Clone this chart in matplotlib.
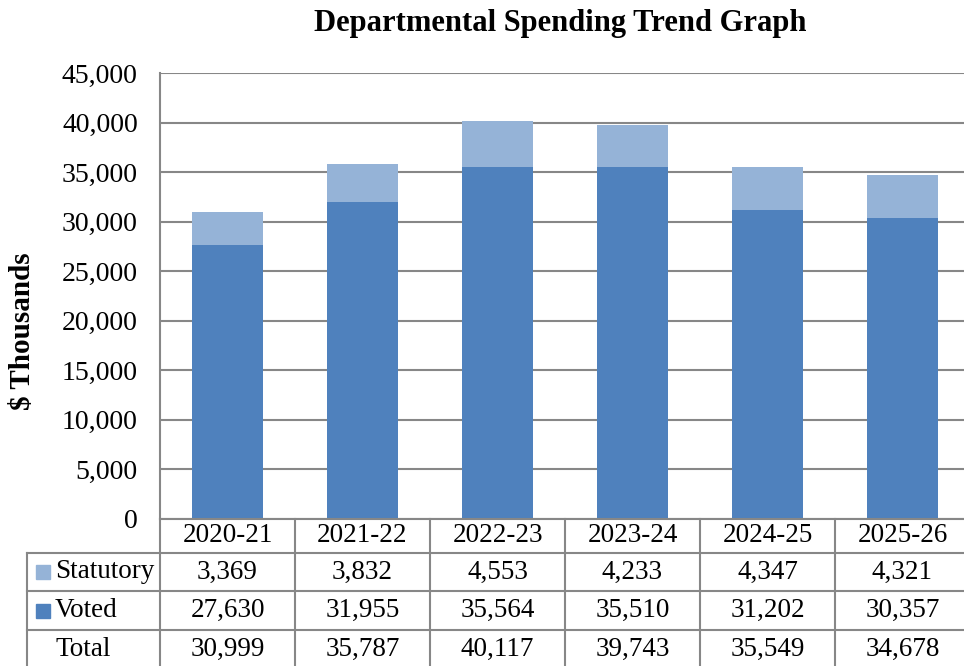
import matplotlib.pyplot as plt
from matplotlib.lines import Line2D
from matplotlib.patches import Rectangle
import numpy as np

plt.rcParams['font.family'] = ['Liberation Serif', 'DejaVu Serif']

# Data
years = ['2020-21', '2021-22', '2022-23', '2023-24', '2024-25', '2025-26']
statutory = [3369, 3832, 4553, 4233, 4347, 4321]
voted = [27630, 31955, 35564, 35510, 31202, 30357]
total = [30999, 35787, 40117, 39743, 35549, 34678]

c_voted = '#4F81BD'
c_stat = '#95B3D7'
grid_c = '#878787'

W, H = 964, 666
fig = plt.figure(figsize=(W / 100, H / 100), dpi=100)

# plot area in pixels
x0, x1 = 160, 970
y_top, y_bot = 73, 519
ax = fig.add_axes([x0 / W, 1 - y_bot / H, (x1 - x0) / W, (y_bot - y_top) / H])

x = np.arange(len(years))
ax.bar(x, voted, width=0.52, color=c_voted, zorder=3)
ax.bar(x, statutory, width=0.52, bottom=voted, color=c_stat, zorder=3)

ax.set_xlim(-0.5, len(years) - 0.5)
ax.set_ylim(0, 45000)
ax.set_yticks(np.arange(0, 45001, 5000))
ax.set_yticklabels([f'{v:,}' for v in range(0, 45001, 5000)], fontsize=20)
ax.set_xticks([])
ax.yaxis.grid(True, color=grid_c, linewidth=1.5, zorder=0)
ax.tick_params(axis='y', length=0, pad=16)
for s in ['top', 'right', 'bottom']:
    ax.spines[s].set_visible(False)
ax.spines['left'].set_color(grid_c)
ax.spines['left'].set_linewidth(1.5)

fig.text(23 / W, 1 - 331 / H, '$ Thousands', rotation=90, ha='center', va='center',
         fontsize=21, fontweight='bold')
fig.text(560 / W, 1 - 23 / H, 'Departmental Spending Trend Graph',
         ha='center', va='center', fontsize=22, fontweight='bold')

# data table below the chart
col_w = (x1 - x0) / len(years)
rows = [y_bot, 553, 591, 630, 668]
lab_x = 27


def fx(px):
    return px / W


def fy(py):
    return 1 - py / H


def hline(xa, xb, y):
    fig.add_artist(Line2D([fx(xa), fx(xb)], [fy(y), fy(y)], color=grid_c, lw=1.5))


def vline(xp, ya, yb):
    fig.add_artist(Line2D([fx(xp), fx(xp)], [fy(ya), fy(yb)], color=grid_c, lw=1.5))


hline(x0, x1, rows[0])
for r in rows[1:4]:
    hline(lab_x, x1, r)
vline(lab_x, rows[1], rows[4])
for i in range(len(years) + 1):
    vline(x0 + i * col_w, rows[0], rows[4])

series = [('Statutory', statutory, c_stat), ('Voted', voted, c_voted), ('Total', total, None)]
for i, yr in enumerate(years):
    cx = x0 + (i + 0.5) * col_w
    fig.text(fx(cx), fy((rows[0] + rows[1]) / 2), yr, ha='center', va='center', fontsize=19.5)
    for j, (name, vals, col) in enumerate(series):
        cy = (rows[j + 1] + rows[j + 2]) / 2
        fig.text(fx(cx), fy(cy), f'{vals[i]:,}', ha='center', va='center', fontsize=19.5)

for j, (name, vals, col) in enumerate(series):
    cy = (rows[j + 1] + rows[j + 2]) / 2
    if col:
        fig.add_artist(Rectangle((fx(36), fy(cy + 7)), 14 / W, 14 / H, color=col))
    fig.text(fx(55), fy(cy), name, ha='left', va='center', fontsize=19.5)

fig.savefig('out.png', dpi=100)
